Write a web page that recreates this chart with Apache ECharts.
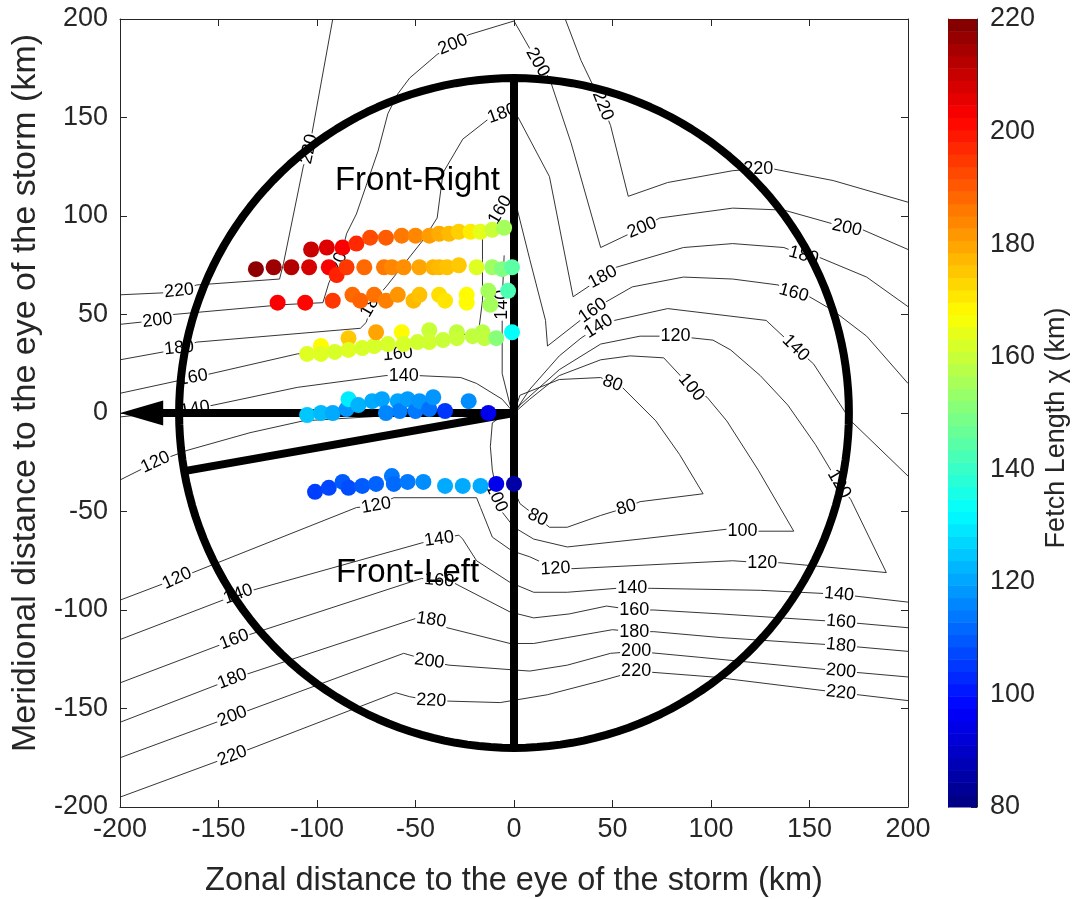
<!DOCTYPE html>
<html>
<head>
<meta charset="utf-8">
<script src="https://cdn.jsdelivr.net/npm/echarts@6/dist/echarts.min.js"></script>
<style>
  html, body { margin: 0; padding: 0; background: #fff; }
  #chart { width: 1074px; height: 899px; }
</style>
</head>
<body>
<div id="chart"></div>
<script>
// ---- axis ticks ----
const xTicks = [-200, -150, -100, -50, 0, 50, 100, 150, 200];
const yTicks = [-200, -150, -100, -50, 0, 50, 100, 150, 200];
const fetchTicks = [80, 100, 120, 140, 160, 180, 200, 220];

// ---- observed fetch points: [zonal km, meridional km, fetch km] ----
const rowA = [[-103,83,210],[-95,84,207],[-87,84,203],[-80,86,197],[-73,89,192],[-65,89,190],[-57,90,186],[-50,90,184],[-43,90,181],[-38,91,179],[-33,91,177],[-28,92,174],[-22,92,170],[-17,92,164],[-11,93,160],[-5,94,155]];
const rowB = [[-131,73,218],[-122,74,216],[-113,74,213],[-104,74,208],[-94,74,203],[-90,70,198],[-85,74,195],[-76,74,188],[-66,74,186],[-62,74,184],[-56,74,183],[-48,74,180],[-41,74,178],[-38,74,177],[-34,74,176],[-28,75,175],[-19,74,163],[-11,74,154],[-6,73,150],[-1,74,145]];
const rowC = [[-120,56,203],[-106,56,202],[-92,57,195],[-82,60,188],[-78,57,189],[-71,60,187],[-65,57,185],[-59,60,182],[-51,57,177],[-48,60,176],[-38,60,172],[-35,57,171],[-24,60,168],[-24,56,168],[-13,62,155],[-12,55,155],[-3,62,143]];
const rowD = [[-105,30,163],[-98,34,168],[-98,30,163],[-91,31,162],[-84,38,175],[-84,32,163],[-77,33,162],[-71,34,162],[-70,41,180],[-64,35,162],[-57,41,168],[-56,35,162],[-49,36,161],[-43,42,160],[-43,36,161],[-36,37,160],[-29,41,159],[-29,38,160],[-21,39,159],[-16,41,158],[-15,38,159],[-9,38,151],[-1,41,133]];
const rowE = [[-105,-1,125],[-98,0,123],[-92,0,121],[-85,2,118],[-84,7,130],[-79,4,122],[-72,6,121],[-67,7,120],[-65,0,116],[-59,6,120],[-58,1,115],[-54,7,119],[-50,1,114],[-48,6,118],[-43,2,113],[-41,8,118],[-35,1,105],[-23,6,117],[-13,0,95]];
const rowF = [[-101,-40,106],[-94,-38,107],[-87,-35,110],[-84,-38,108],[-77,-37,110],[-70,-36,111],[-62,-32,114],[-61,-36,112],[-54,-35,114],[-46,-35,117],[-35,-37,121],[-26,-37,121],[-17,-37,121],[-9,-36,95],[0,-36,85]];

// ---- fetch-length contours (km) ----
const c220Low = [[-200,-195],[-143,-174],[-60,-142],[-53,-144],[-42,-146],[-7,-147],[17,-143],[44,-136],[62,-131],[101,-134],[166,-142],[200,-146]];
const c200Low = [[-200,-175],[-143,-154],[-56,-122],[-49,-124],[-43,-126],[-33,-128],[8,-131],[27,-128],[49,-122],[62,-121],[94,-124],[166,-131],[200,-134]];
const c180Low = [[-200,-157],[-143,-135],[-49,-104],[-42,-105],[-34,-109],[-2,-117],[10,-117],[27,-114],[50,-110],[61,-111],[71,-111],[105,-114],[166,-118],[200,-121]];
const c160Low = [[-200,-137],[-142,-115],[-47,-84],[-38,-85],[-31,-86],[-2,-101],[10,-104],[28,-102],[47,-98],[61,-100],[71,-100],[105,-102],[166,-106],[200,-109]];
const c140Low = [[-200,-115],[-140,-92],[-47,-66],[-38,-64],[-28,-62],[-26,-64],[-19,-75],[-2,-86],[10,-91],[27,-91],[52,-89],[60,-89],[70,-89],[125,-90],[165,-92],[200,-96]];
const c120Loop = [[-200,-95],[-171,-84],[-163,-81],[-80,-48],[-70,-47],[-61,-43],[-19,-43],[-17,-48],[-11,-63],[-1,-70],[8,-73],[21,-79],[30,-79],[111,-75],[126,-76],[135,-76],[189,-81],[171,-44],[165,-36],[153,-16],[139,4],[125,19],[110,32],[101,37],[82,39],[64,39],[44,35],[23,22],[3,4],[0,0]];
const c100Loop = [[0,0],[-4,0],[-11,-5],[-12,-17],[-11,-29],[-9,-39],[-7,-49],[0,-58],[10,-64],[27,-68],[64,-64],[108,-59],[116,-60],[123,-60],[142,-60],[124,-29],[108,-4],[98,8],[90,13],[76,28],[59,29],[44,27],[23,19],[8,7],[0,0]];
const c80Loop = [[0,0],[3,9],[23,17],[44,18],[50,15],[55,13],[72,-4],[84,-21],[96,-41],[64,-45],[57,-48],[44,-52],[27,-58],[18,-58],[12,-53],[3,-46],[0,-39],[0,0]];
const c220UpRight = [[26,200],[34,179],[45,156],[49,146],[58,110],[78,117],[111,123],[124,124],[131,124],[162,118],[200,107]];
const c220UpLeft = [[-200,60],[-178,61],[-170,62],[-161,65],[-119,68],[-117,76],[-107,125],[-104,134],[-92,200]];
const c200Up = [[-200,45],[-181,47],[-173,50],[-117,55],[-97,56],[-94,66],[-88,79],[-85,91],[-80,101],[-69,133],[-64,152],[-59,162],[-53,170],[-39,182],[-31,187],[-23,192],[0,199],[12,178],[18,170],[29,137],[44,84],[65,94],[74,99],[111,104],[137,103],[169,94],[177,93],[200,83]];
const c180Up = [[-200,27],[-178,31],[-170,33],[-161,36],[-78,43],[-75,46],[-72,56],[-65,64],[-46,88],[-39,99],[-36,122],[-26,139],[-12,150],[-6,152],[0,154],[18,120],[30,59],[45,69],[52,74],[86,84],[111,86],[137,84],[147,80],[155,79],[179,69],[200,54]];
const c160Up = [[-200,10],[-163,18],[-158,19],[-110,30],[-70,33],[-59,30],[-38,38],[-18,41],[-16,57],[-16,78],[-16,88],[-12,94],[-7,103],[0,110],[8,78],[16,47],[17,34],[40,52],[46,56],[60,64],[86,69],[111,68],[134,65],[142,61],[150,59],[162,52],[179,39],[200,15]];
const c140Up = [[-200,-2],[-162,2],[-110,13],[-65,19],[-56,19],[-49,19],[-27,18],[-19,15],[-6,7],[0,0],[8,12],[23,29],[34,38],[43,44],[51,47],[78,53],[128,47],[143,33],[152,25],[171,-4],[200,-32]];
const c140Arm = [[-5,80],[-6,57],[-6,20],[-2,4],[0,0]];
const c120UpLeft = [[-200,-34],[-182,-25],[-166,-19],[-134,-10],[-107,-4],[-58,-1],[-7,1],[0,0]];

const contourLines = [c220Low, c200Low, c180Low, c160Low, c140Low, c120Loop, c100Loop, c80Loop,
  c220UpRight, c220UpLeft, c200Up, c180Up, c160Up, c140Up, c140Arm, c120UpLeft];

// contour label placements: [x km, y km, level text, angle deg]
const contourLabels = [
  [-143,-174,'220',21],[-42,-146,'220',-3],[62,-131,'220',0],[166,-142,'220',-6],
  [-143,-154,'200',21],[-43,-126,'200',-8],[62,-121,'200',0],[166,-131,'200',-6],
  [-143,-135,'180',21],[-42,-105,'180',-8],[61,-111,'180',0],[166,-118,'180',-6],
  [-142,-115,'160',21],[-38,-85,'160',-5],[61,-100,'160',0],[166,-106,'160',-5],
  [-140,-92,'140',20],[-38,-64,'140',8],[60,-89,'140',0],[165,-92,'140',-5],
  [-171,-84,'120',25],[-70,-47,'120',10],[21,-79,'120',3],[126,-76,'120',0],[165,-36,'120',-60],[82,39,'120',0],
  [116,-60,'100',0],[90,13,'100',-50],[-9,-43,'100',-65],
  [50,15,'80',-20],[57,-48,'80',15],[12,-53,'80',-25],
  [45,156,'220',-68],[124,124,'220',0],
  [-181,47,'200',6],[-88,79,'200',72],[-31,187,'200',22],[12,178,'200',-60],[65,94,'200',22],[169,94,'200',-12],
  [-170,62,'220',6],[-104,134,'220',78],
  [-170,33,'180',6],[-72,56,'180',60],[-6,152,'180',20],[45,69,'180',28],[147,80,'180',-15],
  [-163,18,'160',10],[-59,30,'160',5],[-7,103,'160',60],[40,52,'160',35],[142,61,'160',-15],
  [-162,2,'140',10],[-56,19,'140',0],[43,44,'140',32],[143,33,'140',-45],[-6,55,'140',90],
  [-182,-25,'120',25]
];

// ---- storm sectors ----
const sectorRadius = 170;          // km
const leftEdgeDeg = 190;           // front-left sector boundary
const regionNames = ['Front-Right', 'Front-Left'];
const regionAnchors = [[-49, 118], [-54, -81]];

const FETCH_MIN = 80, FETCH_MAX = 220;
const FONT = 'Liberation Sans, Arial, Helvetica, sans-serif';
const INK = '#262626';

function clamp01(v) { return Math.max(0, Math.min(1, v)); }
function jet(t) {
  const r = clamp01(1.5 - Math.abs(4 * t - 3));
  const g = clamp01(1.5 - Math.abs(4 * t - 2));
  const b = clamp01(1.5 - Math.abs(4 * t - 1));
  return 'rgb(' + Math.round(r * 255) + ',' + Math.round(g * 255) + ',' + Math.round(b * 255) + ')';
}
function fetchColor(v) { return jet((v - FETCH_MIN) / (FETCH_MAX - FETCH_MIN)); }

// circle outline
const circlePts = [];
for (let a = 0; a <= 360; a += 2) {
  const r = a * Math.PI / 180;
  circlePts.push([sectorRadius * Math.cos(r), sectorRadius * Math.sin(r)]);
}
const lr = leftEdgeDeg * Math.PI / 180;
const leftEdge = [[0, 0], [sectorRadius * Math.cos(lr), sectorRadius * Math.sin(lr)]];
const arrowTip = [xTicks[0], 0];
const arrowHeadLen = 11; // km from tip to head centre
const arrowShaft = [[0, 0], [arrowTip[0] + arrowHeadLen, 0]];
const centreLine = [[0, sectorRadius], [0, -sectorRadius]];

// colour bar bands (64-level jet colour map)
const nBands = 64;
const bands = [];
for (let i = 0; i < nBands; i++) {
  const lo = FETCH_MIN + (FETCH_MAX - FETCH_MIN) * i / nBands;
  const hi = FETCH_MIN + (FETCH_MAX - FETCH_MIN) * (i + 1) / nBands;
  bands.push([lo, hi, (i + 0.5) / nBands]);
}

const series = [];

contourLines.forEach(function (pts) {
  series.push({
    type: 'line', xAxisIndex: 0, yAxisIndex: 0, data: pts,
    showSymbol: false, symbol: 'none', silent: true, z: 1,
    lineStyle: { color: '#1e1e1e', width: 0.9 }
  });
});

series.push({
  type: 'scatter', xAxisIndex: 0, yAxisIndex: 0, symbolSize: 1, silent: true, z: 2,
  itemStyle: { color: 'rgba(0,0,0,0)', opacity: 1 },
  data: contourLabels.map(function (d) {
    return { value: [d[0], d[1]], label: { formatter: d[2], rotate: d[3] } };
  }),
  label: {
    show: true, position: 'inside', fontSize: 18, fontFamily: FONT, color: '#000',
    backgroundColor: '#fff', padding: [0, 1]
  }
});

const thick = { color: '#000', width: 8 };
[circlePts, centreLine, arrowShaft, leftEdge].forEach(function (pts) {
  series.push({
    type: 'line', xAxisIndex: 0, yAxisIndex: 0, data: pts,
    showSymbol: false, symbol: 'none', silent: true, z: 3,
    lineStyle: thick
  });
});
series.push({
  type: 'scatter', xAxisIndex: 0, yAxisIndex: 0, silent: true, z: 3,
  symbol: 'triangle', symbolRotate: 90, symbolSize: [25, 43],
  itemStyle: { color: '#000', opacity: 1 },
  data: [[arrowTip[0] + arrowHeadLen, arrowTip[1]]]
});

series.push({
  type: 'scatter', xAxisIndex: 0, yAxisIndex: 0, silent: true, z: 4, symbolSize: 1,
  itemStyle: { color: 'rgba(0,0,0,0)', opacity: 1 },
  data: regionNames.map(function (n, i) {
    return { value: regionAnchors[i], label: { formatter: n } };
  }),
  label: { show: true, position: 'inside', fontSize: 33, fontFamily: FONT, color: '#000' }
});

series.push({
  type: 'scatter', xAxisIndex: 0, yAxisIndex: 0, silent: true, z: 5,
  symbol: 'circle', symbolSize: 16,
  data: [].concat(rowA, rowB, rowC, rowD, rowE, rowF),
  itemStyle: { color: function (p) { return fetchColor(p.value[2]); }, opacity: 1 }
});

series.push({
  type: 'custom', xAxisIndex: 2, yAxisIndex: 2, silent: true, z: 1,
  data: bands,
  renderItem: function (params, api) {
    const p0 = api.coord([0, api.value(1)]);
    const p1 = api.coord([1, api.value(0)]);
    return {
      type: 'rect',
      shape: { x: p0[0], y: p0[1], width: p1[0] - p0[0], height: p1[1] - p0[1] + 0.5 },
      style: { fill: jet(api.value(2)) }
    };
  }
});

const tickStyle = { inside: true, length: 7, lineStyle: { color: INK, width: 1 } };
const lineStyleAxis = { show: true, onZero: false, lineStyle: { color: INK, width: 1 } };
const labelStyle = { fontSize: 27, color: INK, fontFamily: FONT };

const option = {
  animation: false,
  backgroundColor: '#fff',
  grid: [
    { left: 120, top: 19, width: 788, height: 788, outerBoundsMode: 'none', containLabel: false },
    { left: 948, top: 19, width: 29, height: 788, outerBoundsMode: 'none', containLabel: false }
  ],
  xAxis: [
    { gridIndex: 0, type: 'value', min: xTicks[0], max: xTicks[xTicks.length - 1], interval: 50,
      position: 'bottom', axisLine: lineStyleAxis, axisTick: tickStyle, splitLine: { show: false },
      axisLabel: Object.assign({ margin: 9 }, labelStyle),
      name: 'Zonal distance to the eye of the storm (km)', nameLocation: 'middle', nameGap: 58,
      nameTextStyle: { fontSize: 32.5, color: INK, fontFamily: FONT } },
    { gridIndex: 0, type: 'value', min: xTicks[0], max: xTicks[xTicks.length - 1], interval: 50,
      position: 'top', axisLine: lineStyleAxis, axisTick: tickStyle, splitLine: { show: false },
      axisLabel: { show: false } },
    { gridIndex: 1, type: 'value', min: 0, max: 1, show: false }
  ],
  yAxis: [
    { gridIndex: 0, type: 'value', min: yTicks[0], max: yTicks[yTicks.length - 1], interval: 50,
      position: 'left', axisLine: lineStyleAxis, axisTick: tickStyle, splitLine: { show: false },
      axisLabel: Object.assign({ margin: 12 }, labelStyle),
      name: 'Meridional distance to the eye of the storm (km)', nameLocation: 'middle', nameGap: 72,
      nameRotate: 90, nameTextStyle: { fontSize: 34, color: INK, fontFamily: FONT, padding: [0, 0, 0, 40] } },
    { gridIndex: 0, type: 'value', min: yTicks[0], max: yTicks[yTicks.length - 1], interval: 50,
      position: 'right', axisLine: lineStyleAxis, axisTick: tickStyle, splitLine: { show: false },
      axisLabel: { show: false } },
    { gridIndex: 1, type: 'value', min: fetchTicks[0], max: fetchTicks[fetchTicks.length - 1], interval: 20,
      position: 'right', axisLine: lineStyleAxis, axisTick: { inside: true, length: 6, lineStyle: { color: INK } },
      splitLine: { show: false },
      axisLabel: Object.assign({ margin: 13 }, labelStyle),
      name: 'Fetch Length χ (km)', nameLocation: 'middle', nameGap: 66, nameRotate: 90,
      nameTextStyle: { fontSize: 27, color: INK, fontFamily: FONT, padding: [0, 30, 0, 0] } },
    { gridIndex: 1, type: 'value', min: fetchTicks[0], max: fetchTicks[fetchTicks.length - 1],
      position: 'left', axisLine: lineStyleAxis, axisTick: { show: false }, axisLabel: { show: false },
      splitLine: { show: false } }
  ],
  series: series
};

const chart = echarts.init(document.getElementById('chart'), null, { renderer: 'canvas' });
chart.setOption(option);
</script>
</body>
</html>
